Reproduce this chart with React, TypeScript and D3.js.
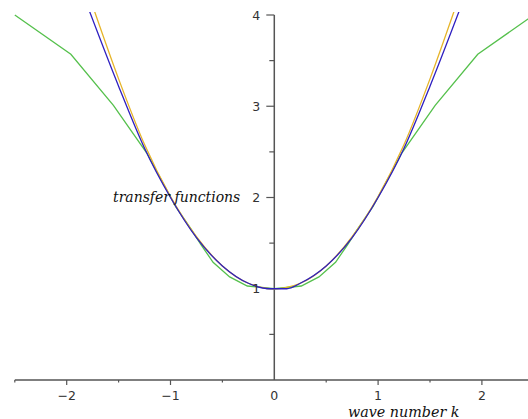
import { useEffect } from 'react'
import * as d3 from 'd3'

// wave number samples and the three transfer functions
const greenK = [-2.5, -1.96, -1.55, -1.23, -0.95, -0.8, -0.71, -0.59, -0.43, -0.26, 0, 0.26, 0.43, 0.59, 0.71, 0.8, 0.95, 1.23, 1.55, 1.96, 2.5]
const greenV = [4.0, 3.57, 3.01, 2.49, 1.9, 1.65, 1.49, 1.29, 1.13, 1.03, 1.0, 1.03, 1.13, 1.29, 1.49, 1.65, 1.9, 2.49, 3.01, 3.57, 4.0]

const orangeK = [-1.75, -1.5, -1.25, -1.0, -0.75, -0.5, -0.25, -0.1, 0, 0.1, 0.25, 0.5, 0.75, 1.0, 1.25, 1.5, 1.75]
const orangeV = [4.1, 3.3, 2.58, 2.01, 1.57, 1.25, 1.06, 1.01, 1.0, 1.01, 1.06, 1.25, 1.57, 2.01, 2.58, 3.3, 4.1]

const blueK = [-1.8, -1.5, -1.25, -1.0, -0.75, -0.5, -0.25, -0.04, 0.12, 0.25, 0.5, 0.75, 1.0, 1.25, 1.5, 1.8]
const blueV = [4.1, 3.22, 2.54, 2.0, 1.56, 1.25, 1.06, 1.0, 1.0, 1.06, 1.25, 1.56, 2.0, 2.54, 3.22, 4.1]

const xMajor = [-2, -1, 0, 1, 2]
const xMinor = [-2.5, -1.5, -0.5, 0.5, 1.5, 2.5]
const yMajor = [1, 2, 3, 4]
const yMinor = [0.5, 1.5, 2.5, 3.5]

const xLabel = 'wave number k'
const yLabel = 'transfer functions'

const W = 528
const H = 419

export default function App() {
  useEffect(() => {
    document.body.style.margin = '0'
  }, [])

  const x = d3.scaleLinear().domain([-2.5, 2.5]).range([14.8, 533.8])
  const y = d3.scaleLinear().domain([0, 4]).range([380, 15])

  const line = d3
    .line<[number, number]>()
    .x((d) => x(d[0]))
    .y((d) => y(d[1]))
  const smooth = d3
    .line<[number, number]>()
    .x((d) => x(d[0]))
    .y((d) => y(d[1]))
    .curve(d3.curveMonotoneX)

  const pts = (ks: number[], vs: number[]) => ks.map((k, i) => [k, vs[i]] as [number, number])

  const x0 = x(0)
  const y0 = y(0)
  const axisColor = '#555'
  const tickFont = 'Tahoma, "DejaVu Sans", sans-serif'
  const labelFont = '"DejaVu Serif", serif'
  const fmt = (v: number) => (v < 0 ? '\u2212' + Math.abs(v) : String(v))

  return (
    <svg width={W} height={H} style={{ display: 'block', background: '#fff' }}>
      <defs>
        <clipPath id="plot">
          <rect x={0} y={y(4) - 3} width={W} height={y0 - y(4) + 3} />
        </clipPath>
      </defs>

      {/* axes */}
      <line x1={x(-2.5)} x2={W} y1={y0} y2={y0} stroke={axisColor} strokeWidth={1.5} />
      <line x1={x0} x2={x0} y1={y(4)} y2={y0} stroke={axisColor} strokeWidth={1.5} />

      {xMajor.map((t) => (
        <g key={'xm' + t}>
          {t !== 0 && <line x1={x(t)} x2={x(t)} y1={y0} y2={y0 + 5} stroke={axisColor} strokeWidth={1.2} />}
          <text x={x(t)} y={y0 + 20} textAnchor="middle" fontFamily={tickFont} fontSize={12.5} fill="#333">
            {fmt(t)}
          </text>
        </g>
      ))}
      {xMinor.map((t) => (
        <line key={'xn' + t} x1={x(t)} x2={x(t)} y1={y0} y2={y0 + 2.5} stroke={axisColor} strokeWidth={1.2} />
      ))}

      {yMajor.map((t) => (
        <g key={'ym' + t}>
          <line x1={x0 - 8} x2={x0} y1={y(t)} y2={y(t)} stroke={axisColor} strokeWidth={1.2} />
          <text
            x={x0 - 14}
            y={y(t) + 4.5}
            textAnchor="end"
            fontFamily={tickFont}
            fontSize={12.5}
            fill="#333"
          >
            {t === 1 ? '' : fmt(t)}
          </text>
        </g>
      ))}
      {yMinor.map((t) => (
        <line key={'yn' + t} x1={x0 - 5} x2={x0} y1={y(t)} y2={y(t)} stroke={axisColor} strokeWidth={1.2} />
      ))}

      {/* curves */}
      <g clipPath="url(#plot)" fill="none" strokeWidth={1.3}>
        <path d={line(pts(greenK, greenV)) ?? ''} stroke="#55c04c" />
        <path d={smooth(pts(orangeK, orangeV)) ?? ''} stroke="#e6b428" />
        <path d={smooth(pts(blueK, blueV)) ?? ''} stroke="#2e1fc0" />
      </g>

      {/* the "1" label sits over the curves near the minimum */}
      <text x={x0 - 14} y={y(1) + 4.5} textAnchor="end" fontFamily={tickFont} fontSize={12.5} fill="#333">
        1
      </text>

      <text x={113} y={y(2) + 4.5} fontFamily={labelFont} fontStyle="italic" fontSize={14} fill="#111">
        {yLabel}
      </text>
      <text x={348} y={y0 + 37} fontFamily={labelFont} fontStyle="italic" fontSize={14.3} fill="#111">
        {xLabel}
      </text>
    </svg>
  )
}
